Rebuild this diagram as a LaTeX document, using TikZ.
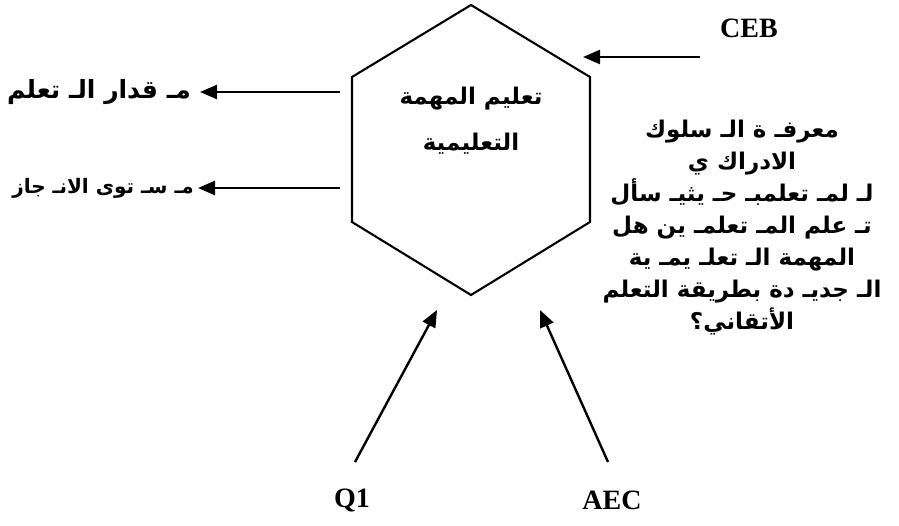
\documentclass[tikz,border=0pt]{standalone}
\usepackage{fontspec}
\usetikzlibrary{arrows.meta}
\TeXXeTstate=1
\newfontfamily\arabicfont[Script=Arabic]{DejaVu Sans}
\setmainfont{Liberation Serif}
\begin{document}
\begin{tikzpicture}[x=1pt,y=-1pt,
  line width=2.4pt,
  arr/.style={-{Triangle[length=17pt,width=14pt]}},
  ar/.style={font=\arabicfont\bfseries\fontsize{23}{32}\selectfont, inner sep=0pt, align=center},
  lat/.style={font=\bfseries\fontsize{28}{32}\selectfont, inner sep=0pt}]
\useasboundingbox (0,0) rectangle (899,526);

% central hexagon
\coordinate (h1) at (471,5);
\coordinate (h2) at (590,77);
\coordinate (h3) at (590,222);
\coordinate (h4) at (471,295);
\coordinate (h5) at (352,222);
\coordinate (h6) at (352,77);
\draw[line width=2.1pt, line join=miter] (h1) -- (h2) -- (h3) -- (h4) -- (h5) -- (h6) -- cycle;
\node[ar, font=\arabicfont\bfseries\fontsize{23}{46}\selectfont] (task) at (471,121)
  {\beginR تعليم المهمة\endR\\ \beginR التعليمية\endR};

% inputs
\node[lat] (ceb) at (749,28) {CEB};
\coordinate (cebs) at (700,57);
\coordinate (cebe) at (583,57);
\draw[arr] (cebs) -- (cebe);

\node[lat] (q1) at (352,500) {Q1};
\coordinate (q1s) at (355,462);
\coordinate (q1e) at (437,310);
\draw[arr] (q1s) -- (q1e);

\node[lat] (aec) at (612,500) {AEC};
\coordinate (aecs) at (608,462);
\coordinate (aece) at (540,310);
\draw[arr] (aecs) -- (aece);

% outputs
\coordinate (o1s) at (340,92);
\coordinate (o1e) at (200,92);
\draw[arr] (o1s) -- (o1e);
\node[ar, anchor=east, font=\arabicfont\bfseries\fontsize{25}{30}\selectfont] (amount) at (192,92)
  {\beginR مـ قدار الـ تعلم\endR};

\coordinate (o2s) at (340,188);
\coordinate (o2e) at (198,188);
\draw[arr] (o2s) -- (o2e);
\node[ar, anchor=east, font=\arabicfont\bfseries\fontsize{20}{30}\selectfont] (level) at (195,188)
  {\beginR مـ سـ توى الانـ جاز\endR};

% note on the right
\node[ar] (note) at (742,228)
  {\beginR معرفـ ة الـ سلوك\endR\\
   \beginR الادراك ي\endR\\
   \beginR لـ لمـ تعلمبـ حـ يثيـ سأل\endR\\
   \beginR تـ علم المـ تعلمـ ين هل\endR\\
   \beginR المهمة الـ تعلـ يمـ ية\endR\\
   \beginR الـ جديـ دة بطريقة التعلم\endR\\
   \beginR الأتقاني؟\endR};
\end{tikzpicture}
\end{document}
